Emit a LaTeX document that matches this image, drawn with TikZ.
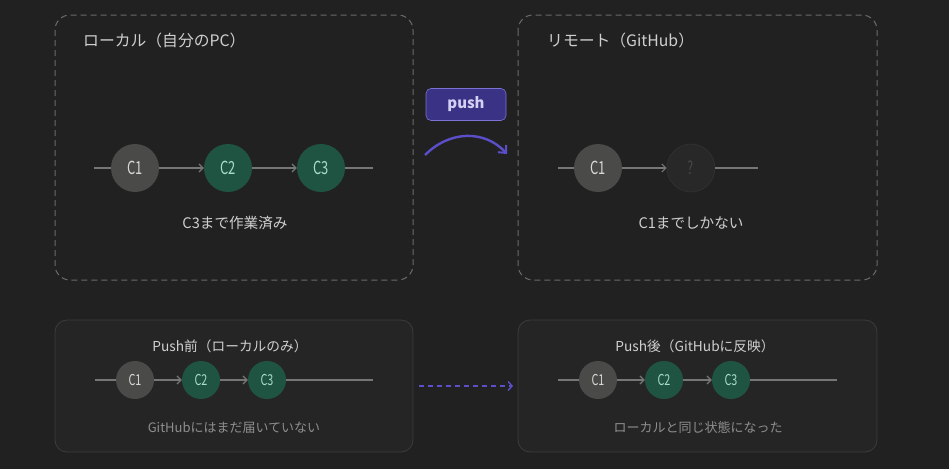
\documentclass[tikz,border=0pt]{standalone}
\usepackage{fontspec}
\setmainfont{Noto Sans CJK JP}
\usetikzlibrary{arrows.meta}
\definecolor{bgc}{HTML}{212121}
\definecolor{dashc}{HTML}{6A6A6A}
\definecolor{panelfill}{HTML}{252525}
\definecolor{panelline}{HTML}{3C3C3C}
\definecolor{titlec}{HTML}{CFCFCF}
\definecolor{captc}{HTML}{CFCFCF}
\definecolor{dimc}{HTML}{8E8E8E}
\definecolor{oldc}{HTML}{4A4A48}
\definecolor{newc}{HTML}{1F5443}
\definecolor{newtext}{HTML}{A6DDC6}
\definecolor{oldtext}{HTML}{D8D8D8}
\definecolor{edgec}{HTML}{767676}
\definecolor{pushc}{HTML}{5A4FC8}
\definecolor{pushfill}{HTML}{3A3385}
\definecolor{pushtext}{HTML}{D4D0F4}
\definecolor{ghostfill}{HTML}{282828}
\definecolor{ghostline}{HTML}{333333}
\definecolor{ghosttext}{HTML}{464646}
\newcommand{\cnd}[1]{\scalebox{0.72}[1]{#1}}
\begin{document}
\begin{tikzpicture}[x=1pt,y=-1pt,
  bigcommit/.style={circle,minimum size=48pt,inner sep=0pt,font=\fontsize{18}{20}\selectfont},
  smallcommit/.style={circle,minimum size=38pt,inner sep=0pt,font=\fontsize{15}{17}\selectfont},
  oldcommit/.style={fill=oldc,text=oldtext},
  newcommit/.style={fill=newc,text=newtext},
  edgeline/.style={draw=edgec,line width=1.4pt},
  edgearrow/.style={edgeline,-{Straight Barb[length=4pt,width=8pt,line width=1.2pt]}},
  dashpanel/.style={draw=dashc,dashed,dash pattern=on 6pt off 4pt,line width=1pt,rounded corners=15pt},
  solidpanel/.style={draw=panelline,fill=panelfill,line width=0.8pt,rounded corners=12pt},
  paneltitle/.style={text=titlec,font=\fontsize{15.8}{18}\selectfont,inner sep=0pt},
  smalltitle/.style={text=titlec,font=\fontsize{13.7}{16}\selectfont,inner sep=0pt},
  caption/.style={text=captc,font=\fontsize{14.6}{17}\selectfont,inner sep=0pt},
  dimcaption/.style={text=dimc,font=\fontsize{13}{15}\selectfont,inner sep=0pt},
]
\fill[bgc] (0,0) rectangle (949,469);
\useasboundingbox (0,0) rectangle (949,469);

% panels
\draw[dashpanel] (55,15) rectangle (413,280);
\draw[dashpanel] (518,15) rectangle (877,280);
\draw[solidpanel] (55,320) rectangle (413,452);
\draw[solidpanel] (518,320) rectangle (877,452);

% top-left panel
\node[paneltitle,anchor=west] (tl) at (83,40) {ローカル（自分のPC）};
\coordinate (ls) at (94,168);
\coordinate (le) at (373,168);
\node[bigcommit,oldcommit] (l1) at (135,168) {\cnd{C1}};
\node[bigcommit,newcommit] (l2) at (228,168) {\cnd{C2}};
\node[bigcommit,newcommit] (l3) at (321,168) {\cnd{C3}};
\draw[edgeline] (ls) -- (l1);
\draw[edgearrow] (l1) -- (l2);
\draw[edgearrow] (l2) -- (l3);
\draw[edgeline] (l3) -- (le);
\node[caption] (lc) at (235,223) {C3まで作業済み};

% top-right panel
\node[paneltitle,anchor=west] (tr) at (547,40) {リモート（GitHub）};
\coordinate (rs) at (558,168);
\coordinate (re) at (758,168);
\node[bigcommit,oldcommit] (r1) at (598,168) {\cnd{C1}};
\node[bigcommit,fill=ghostfill,draw=ghostline,line width=0.6pt,text=ghosttext] (r2) at (691,168) {\cnd{?}};
\draw[edgeline] (rs) -- (r1);
\draw[edgearrow] (r1) -- (r2);
\draw[edgeline] (r2) -- (re);
\node[caption] (rc) at (691,223) {C1までしかない};

% push label and arrow
\node[fill=pushfill,draw=pushc!80!white,line width=0.6pt,rounded corners=5pt,minimum width=80pt,minimum height=32pt,inner sep=0pt,text=pushtext,font=\fontsize{15}{17}\selectfont\bfseries] (push) at (466,104.5) {push};
\coordinate (pa) at (425,155);
\coordinate (pb) at (507,154);
\draw[pushc,line width=2.4pt,-{Straight Barb[length=6pt,width=11pt,line width=2pt]}] (pa) .. controls (450,130) and (485,130) .. (pb);

% bottom-left panel
\node[smalltitle] (bl) at (230,346) {Push前（ローカルのみ）};
\coordinate (bls) at (95,380);
\coordinate (ble) at (373,380);
\node[smallcommit,oldcommit] (b1) at (135,380) {\cnd{C1}};
\node[smallcommit,newcommit] (b2) at (201,380) {\cnd{C2}};
\node[smallcommit,newcommit] (b3) at (267,380) {\cnd{C3}};
\draw[edgeline] (bls) -- (b1);
\draw[edgearrow] (b1) -- (b2);
\draw[edgearrow] (b2) -- (b3);
\draw[edgeline] (b3) -- (ble);
\node[dimcaption] (blc) at (234,428) {GitHubにはまだ届いていない};

% bottom-right panel
\node[smalltitle] (br) at (695,346) {Push後（GitHubに反映）};
\coordinate (brs) at (558,380);
\coordinate (bre) at (837,380);
\node[smallcommit,oldcommit] (c1) at (598,380) {\cnd{C1}};
\node[smallcommit,newcommit] (c2) at (664,380) {\cnd{C2}};
\node[smallcommit,newcommit] (c3) at (731,380) {\cnd{C3}};
\draw[edgeline] (brs) -- (c1);
\draw[edgearrow] (c1) -- (c2);
\draw[edgearrow] (c2) -- (c3);
\draw[edgeline] (c3) -- (bre);
\node[dimcaption] (brc) at (698,428) {ローカルと同じ状態になった};

% dashed arrow between bottom panels
\coordinate (da) at (419,386);
\coordinate (db) at (513,386);
\draw[pushc,line width=1.6pt,dash pattern=on 5pt off 4pt,-{Straight Barb[length=4pt,width=9pt,line width=1.4pt]}] (da) -- (db);
\end{tikzpicture}
\end{document}
